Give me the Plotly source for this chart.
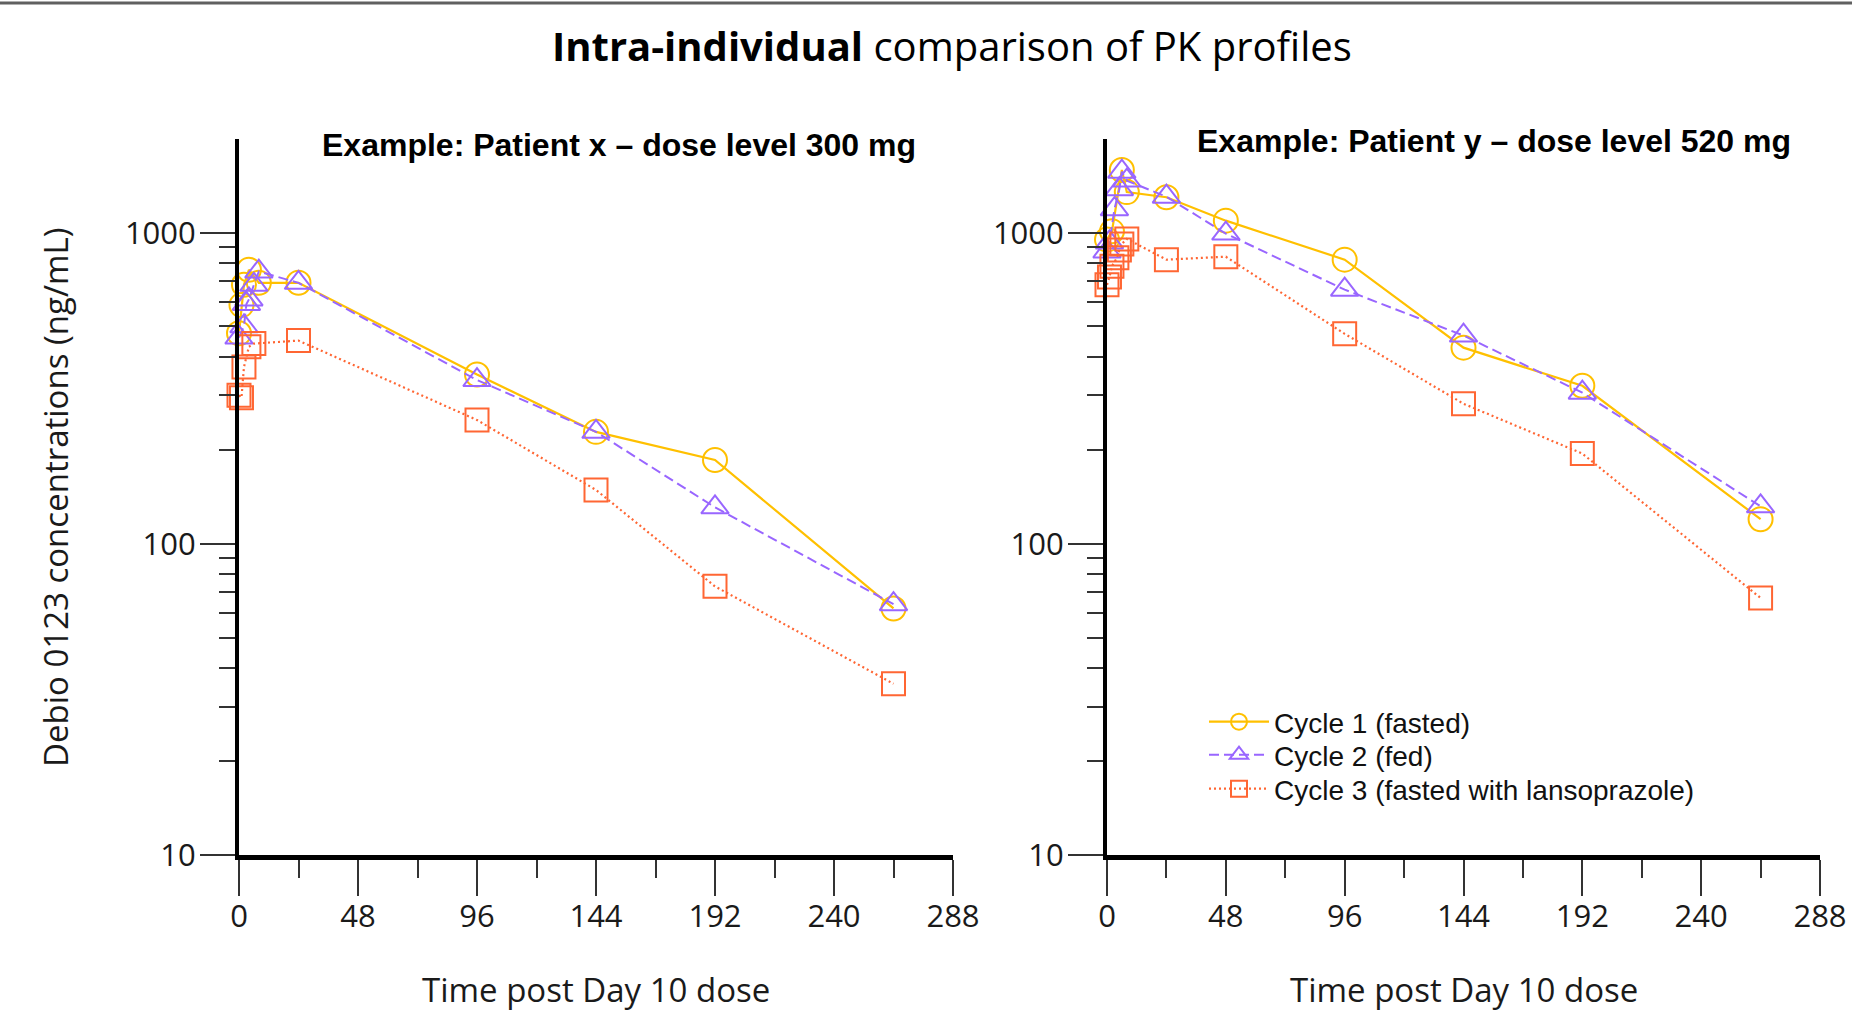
import math
import plotly.graph_objects as go

# ---------------- data ----------------
series_names = ["Cycle 1 (fasted)", "Cycle 2 (fed)", "Cycle 3 (fasted with lansoprazole)"]

# Patient x - dose level 300 mg
px_c1_time = [0, 1, 2, 4, 8, 24, 96, 144, 192, 264]
px_c1_conc = [475, 585, 680, 760, 690, 690, 350, 229, 186, 62]
px_c2_time = [0, 2, 3, 4, 6, 8, 24, 96, 144, 192, 264]
px_c2_conc = [460, 500, 590, 610, 680, 750, 690, 336, 229, 131, 64]
px_c3_time = [0, 1, 2, 4, 6, 24, 96, 144, 192, 264]
px_c3_conc = [300, 295, 370, 430, 440, 450, 250, 149, 73, 35.5]

# Patient y - dose level 520 mg
py_c1_time = [0, 2, 6, 8, 24, 48, 96, 144, 192, 264]
py_c1_conc = [950, 1010, 1590, 1350, 1300, 1093, 819, 427, 322, 120]
py_c2_time = [0, 1, 3, 5, 6, 8, 24, 48, 96, 144, 192, 264]
py_c2_conc = [870, 930, 1190, 1380, 1570, 1470, 1305, 993, 656, 467, 306, 132]
py_c3_time = [0, 1, 2, 4, 5, 6, 8, 24, 48, 96, 144, 192, 264]
py_c3_conc = [680, 720, 780, 830, 880, 920, 955, 819, 837, 473, 282, 195, 67]

x_major_ticks = [0, 48, 96, 144, 192, 240, 288]
x_minor_ticks = [24, 72, 120, 168, 216, 264]
y_major_ticks = [10, 100, 1000]
y_major_labels = ["10", "100", "1000"]
y_minor_ticks = [20, 30, 40, 50, 60, 70, 80, 90, 200, 300, 400, 500, 600, 700, 800, 900]

panel_titles = ["Example: Patient x \u2013 dose level 300 mg",
                "Example: Patient y \u2013 dose level 520 mg"]
main_title = "<b>Intra-individual</b> comparison of PK profiles"
x_title = "Time post Day 10 dose"
y_title = "Debio 0123 concentrations (ng/mL)"

# ---------------- styling ----------------
W, H = 1852, 1010
colors = ["#FFC000", "#9966FF", "#FF6633"]
symbols = ["circle-open", "triangle-up-open", "square-open"]
msizes = [24, 24, 23]
dashes = ["solid", "10px,5px", "2px,3px"]
line_w = [2.2, 2.0, 2.2]
legend_ids = ["legend", "legend2", "legend3"]
legend_tops = [697, 730, 764]


def px_x(p):
    return p / W


def px_y(p):
    return 1 - p / H


fig = go.Figure()

panels = [
    ("x", "y", [(px_c1_time, px_c1_conc), (px_c2_time, px_c2_conc), (px_c3_time, px_c3_conc)], False),
    ("x2", "y2", [(py_c1_time, py_c1_conc), (py_c2_time, py_c2_conc), (py_c3_time, py_c3_conc)], True),
]
for xa, ya, data, show in panels:
    for i, (t, c) in enumerate(data):
        fig.add_trace(go.Scatter(
            x=t, y=c, xaxis=xa, yaxis=ya, mode="lines+markers",
            name=series_names[i], showlegend=show, legend=legend_ids[i],
            cliponaxis=False,
            line=dict(color=colors[i], width=line_w[i], dash=dashes[i]),
            marker=dict(symbol=symbols[i], size=msizes[i], color=colors[i],
                        line=dict(width=2, color=colors[i])),
        ))

tick_font = dict(family="Open Sans", size=31, color="#1a1a1a")


def xaxis_cfg(domain, anchor):
    return dict(
        domain=domain, anchor=anchor, range=[0, 288], showgrid=False, zeroline=False,
        showline=True, linewidth=5, linecolor="black",
        tickmode="array", tickvals=x_major_ticks, ticktext=[str(v) for v in x_major_ticks],
        ticks="outside", ticklen=36, tickwidth=2, tickcolor="#333333",
        tickfont=tick_font, ticklabelstandoff=-6, automargin=False,
        minor=dict(tickmode="array", tickvals=x_minor_ticks, ticks="outside",
                   ticklen=18, tickwidth=2, tickcolor="#333333", showgrid=False),
    )


def yaxis_cfg(domain, anchor):
    return dict(
        domain=domain, type="log", range=[1, math.log10(2000)], anchor=anchor,
        showgrid=False, zeroline=False, showline=True, linewidth=4, linecolor="black",
        tickmode="array", tickvals=y_major_ticks, ticktext=y_major_labels,
        ticks="outside", ticklen=35, tickwidth=2, tickcolor="#333333",
        tickfont=tick_font, ticklabelstandoff=-2, automargin=False,
        minor=dict(tickmode="array", tickvals=y_minor_ticks, ticks="outside",
                   ticklen=16, tickwidth=2, tickcolor="#333333", showgrid=False),
    )


legend_font = dict(family="Liberation Sans, Arial", size=28, color="#111111")
legend_cfgs = {}
for lid, top in zip(legend_ids, legend_tops):
    legend_cfgs[lid] = dict(x=px_x(1204), y=px_y(top), xanchor="left", yanchor="top",
                            bgcolor="rgba(0,0,0,0)", borderwidth=0, itemwidth=60,
                            font=legend_font)

ydom = [px_y(855), px_y(139)]
fig.update_layout(
    width=W, height=H, autosize=False,
    margin=dict(l=0, r=0, t=0, b=0),
    paper_bgcolor="white", plot_bgcolor="white",
    xaxis=xaxis_cfg([px_x(239), px_x(953)], "y"),
    yaxis=yaxis_cfg(ydom, "x"),
    xaxis2=xaxis_cfg([px_x(1107), px_x(1820)], "y2"),
    yaxis2=yaxis_cfg(ydom, "x2"),
    showlegend=True,
    **legend_cfgs,
)

ann = [
    dict(text=main_title, x=px_x(952), y=px_y(45),
         font=dict(family="Open Sans", size=40, color="#000000")),
    dict(text="<b>" + panel_titles[0] + "</b>", x=px_x(619), y=px_y(145),
         font=dict(family="Liberation Sans, Arial", size=32, color="#000000")),
    dict(text="<b>" + panel_titles[1] + "</b>", x=px_x(1494), y=px_y(141),
         font=dict(family="Liberation Sans, Arial", size=32, color="#000000")),
    dict(text=x_title, x=px_x(596), y=px_y(989),
         font=dict(family="Open Sans", size=33, color="#1a1a1a")),
    dict(text=x_title, x=px_x(1464), y=px_y(989),
         font=dict(family="Open Sans", size=33, color="#1a1a1a")),
    dict(text=y_title, x=px_x(55), y=px_y(497), textangle=-90,
         font=dict(family="Open Sans", size=33, color="#1a1a1a")),
]
for a in ann:
    fig.add_annotation(xref="paper", yref="paper", xanchor="center", yanchor="middle",
                       showarrow=False, **a)

fig.add_shape(type="line", xref="paper", yref="paper", x0=0, x1=1,
              y0=px_y(3), y1=px_y(3), line=dict(color="#606060", width=3))

fig.write_html("out.html", include_plotlyjs=True, config={"displayModeBar": False},
               post_script="document.body.style.margin='0';document.body.style.overflow='hidden';")
